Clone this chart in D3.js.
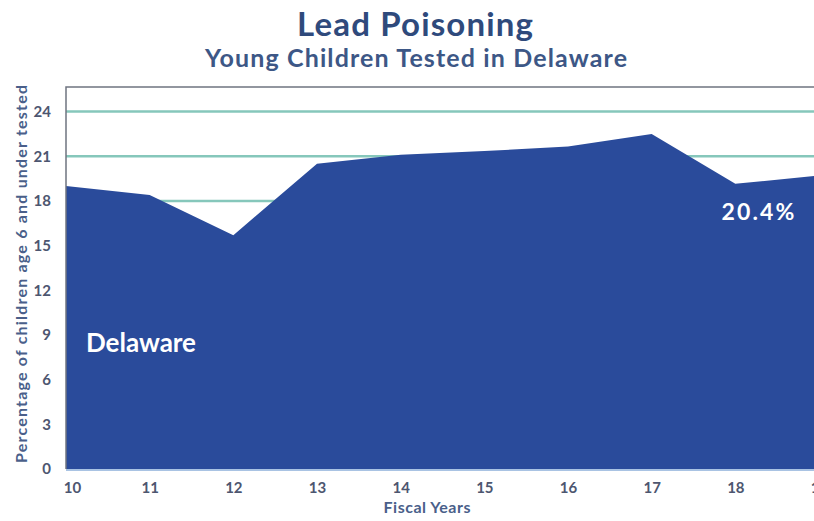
<!DOCTYPE html>
<html>
<head>
<meta charset="utf-8">
<script src="https://cdn.jsdelivr.net/npm/d3@7"></script>
<style>
  body { margin: 0; background: #fff; }
  svg { display: block; font-family: "Lato", "Open Sans", sans-serif; }
</style>
</head>
<body>
<svg width="814" height="521"></svg>
<script>
// fiscal years and percent of young children tested
var years = [10, 11, 12, 13, 14, 15, 16, 17, 18, 19];
var tested = [19.0, 18.4, 15.7, 20.5, 21.1, 21.35, 21.65, 22.5, 19.15, 19.7];
var yTicks = [0, 3, 6, 9, 12, 15, 18, 21, 24];

var svg = d3.select("svg"),
    margin = {top: 87, right: -5, bottom: 52, left: 66},
    width = +svg.attr("width") - margin.left - margin.right,
    height = +svg.attr("height") - margin.top - margin.bottom,
    g = svg.append("g").attr("transform", "translate(" + margin.left + "," + margin.top + ")");

var data = years.map(function (d, i) { return {year: d, value: tested[i]}; });

var x = d3.scaleLinear()
    .domain([10, 19])
    .range([0, width]);

var y = d3.scaleLinear()
    .domain([0, 25.65])
    .range([height, 0]);

// gridlines behind the area
g.selectAll(".grid")
    .data(yTicks.filter(function (d) { return d > 0; }))
    .enter().append("line")
    .attr("x1", 0)
    .attr("x2", width)
    .attr("y1", function (d) { return y(d); })
    .attr("y2", function (d) { return y(d); })
    .attr("stroke", "#86c7bb")
    .attr("stroke-width", 2.5);

var area = d3.area()
    .x(function (d) { return x(d.year); })
    .y0(y(0))
    .y1(function (d) { return y(d.value); });

g.append("path")
    .datum(data)
    .attr("fill", "#2a4b9b")
    .attr("d", area);

// baseline
g.append("line")
    .attr("x1", 0).attr("x2", width)
    .attr("y1", y(0) + 1).attr("y2", y(0) + 1)
    .attr("stroke", "#a9c3e3")
    .attr("stroke-width", 2);

// frame top and left
g.append("path")
    .attr("d", "M0," + y(0) + "V0H" + width)
    .attr("fill", "none")
    .attr("stroke", "#6f7480")
    .attr("stroke-width", 1.5);

var labelColor = "#4d5670";

// y axis labels
g.append("g")
    .call(d3.axisLeft(y).tickValues(yTicks).tickSize(0).tickPadding(15))
    .call(function (a) { a.select(".domain").remove(); })
    .selectAll("text")
    .attr("font-size", 15)
    .attr("font-weight", "bold")
    .attr("fill", labelColor)
    .attr("font-family", "Lato");

// x axis labels
g.append("g")
    .attr("transform", "translate(0," + height + ")")
    .call(d3.axisBottom(x).tickValues(years).tickFormat(d3.format("d")).tickSize(0).tickPadding(13))
    .call(function (a) { a.select(".domain").remove(); })
    .selectAll("text")
    .attr("font-size", 15)
    .attr("font-weight", "bold")
    .attr("fill", labelColor)
    .attr("font-family", "Lato")
    .attr("dx", function (d) { return d === 10 ? 6 : 0; });

// titles
svg.append("text")
    .attr("x", 415).attr("y", 36)
    .attr("text-anchor", "middle")
    .attr("font-size", 33)
    .attr("font-weight", "bold")
    .attr("fill", "#2f4a7c")
    .attr("textLength", 236)
    .attr("lengthAdjust", "spacing")
    .text("Lead Poisoning");

svg.append("text")
    .attr("x", 416).attr("y", 67)
    .attr("text-anchor", "middle")
    .attr("font-size", 25)
    .attr("font-weight", "bold")
    .attr("fill", "#3d5786")
    .attr("textLength", 422)
    .attr("lengthAdjust", "spacing")
    .text("Young Children Tested in Delaware");

svg.append("text")
    .attr("x", 427).attr("y", 513)
    .attr("text-anchor", "middle")
    .attr("font-size", 16)
    .attr("font-weight", "bold")
    .attr("fill", "#4a5f8a")
    .attr("textLength", 87)
    .attr("lengthAdjust", "spacing")
    .text("Fiscal Years");

svg.append("text")
    .attr("transform", "translate(27," + 274 + ") rotate(-90)")
    .attr("text-anchor", "middle")
    .attr("font-size", 16)
    .attr("font-weight", "bold")
    .attr("fill", "#4a5f8a")
    .attr("textLength", 378)
    .attr("lengthAdjust", "spacing")
    .text("Percentage of children age 6 and under tested");

// in-chart labels
g.append("text")
    .attr("x", x(10) + 20).attr("y", y(7.85))
    .attr("font-size", 26)
    .attr("font-weight", "bold")
    .attr("fill", "#fff")
    .attr("textLength", 110)
    .attr("lengthAdjust", "spacing")
    .text("Delaware");

g.append("text")
    .attr("x", x(18.27)).attr("y", y(16.75))
    .attr("text-anchor", "middle")
    .attr("font-size", 23)
    .attr("font-weight", "bold")
    .attr("fill", "#fff")
    .attr("textLength", 73)
    .attr("lengthAdjust", "spacing")
    .text("20.4%");
</script>
</body>
</html>
